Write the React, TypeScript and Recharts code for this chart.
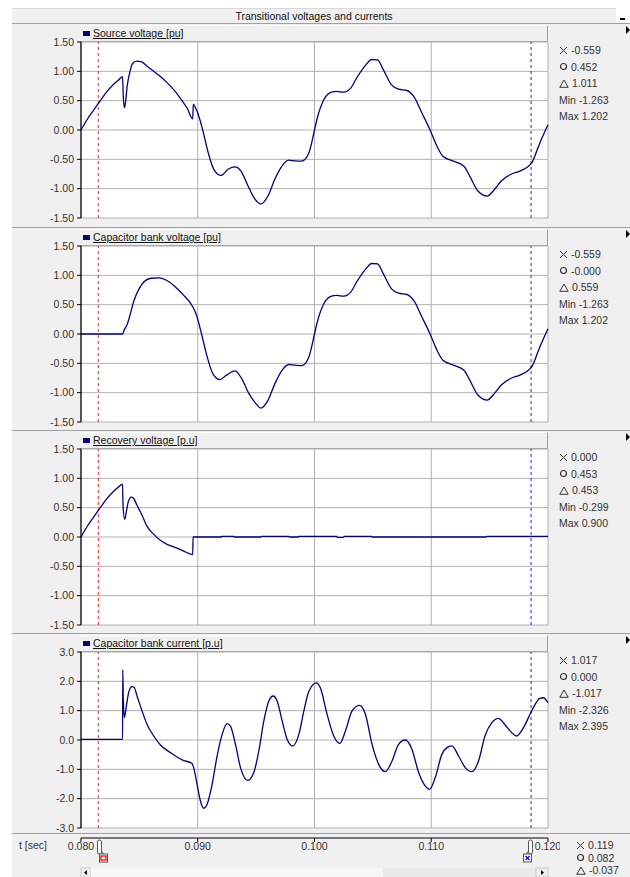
import React from 'react';
import { LineChart, Line, XAxis, YAxis, CartesianGrid, ReferenceLine } from 'recharts';

// time in ms, displayed as seconds
const timeTicks = [80, 90, 100, 110, 120];
const voltTicks = [-1.5, -1, -0.5, 0, 0.5, 1, 1.5];
const currentTicks = [-3, -2, -1, 0, 1, 2, 3];

const cursorO = 81.48;
const cursorX = 118.55;

const sourceT = [
  80.0, 80.5, 81.1, 81.7, 82.2, 82.8, 83.2, 83.56, 83.62, 83.72, 83.8, 83.95, 84.2, 84.4, 84.8,
  85.2, 85.7, 86.3, 86.8, 87.3, 87.7, 88.1, 88.6, 89.1, 89.57, 89.62, 89.8, 90.0, 90.4, 90.9,
  91.4, 92.0, 92.6, 93.2, 93.7, 94.3, 94.9, 95.4, 96.0, 96.6, 97.2, 97.8, 98.3, 98.9, 99.5,
  100.0, 100.2, 100.8, 101.4, 101.9, 102.5, 103.1, 103.6, 104.4, 104.9, 105.4, 105.9, 106.6,
  107.2, 107.9, 108.5, 109.2, 109.9, 110.5, 111.0, 111.9, 112.8, 113.3, 114.0, 114.8, 115.3,
  116.0, 116.8, 117.6, 118.6, 119.3, 120.0,
];
const sourceV = [
  0.0, 0.17, 0.345, 0.515, 0.65, 0.78, 0.85, 0.91, 0.58, 0.38, 0.45, 0.74, 1.0, 1.13, 1.175,
  1.16, 1.08, 0.99, 0.91, 0.82, 0.74, 0.65, 0.515, 0.37, 0.19, 0.44, 0.38, 0.29, 0.02, -0.39,
  -0.68, -0.775, -0.67, -0.63, -0.7, -0.95, -1.18, -1.263, -1.13, -0.84, -0.62, -0.515, -0.525, -0.53, -0.4,
  0.0, 0.175, 0.515, 0.64, 0.657, 0.645, 0.713, 0.883, 1.11, 1.202, 1.195, 1.025, 0.77,
  0.696, 0.674, 0.572, 0.289, 0.0, -0.28, -0.447, -0.53, -0.617, -0.786, -1.04, -1.126, -1.04,
  -0.87, -0.758, -0.7, -0.56, -0.22, 0.09,
];

const capT = [
  80.0, 83.56, 83.68, 83.97, 84.25, 84.54, 84.97, 85.4, 86.0, 86.7, 87.27, 88.0, 88.7, 89.43,
  89.86, 90.29, 90.7, 91.3, 91.9, 92.4, 93.2, 93.7, 94.4, 95.0, 95.4, 96.0, 96.6, 97.2, 97.8,
  98.3, 98.9, 99.5,
  100.0, 100.2, 100.8, 101.4, 101.9, 102.5, 103.1, 103.6, 104.4, 104.9, 105.4, 105.9, 106.6,
  107.2, 107.9, 108.5, 109.2, 109.9, 110.5, 111.0, 111.9, 112.8, 113.3, 114.0, 114.8, 115.3,
  116.0, 116.8, 117.6, 118.6, 119.3, 120.0,
];
const capV = [
  0, 0, 0.06, 0.17, 0.36, 0.57, 0.77, 0.89, 0.95, 0.955, 0.92, 0.82, 0.68, 0.51,
  0.34, 0.03, -0.31, -0.68, -0.778, -0.71, -0.63, -0.74, -1.02, -1.19, -1.263, -1.136, -0.85, -0.625, -0.52,
  -0.53, -0.54, -0.4,
  0.0, 0.175, 0.515, 0.64, 0.657, 0.645, 0.713, 0.883, 1.11, 1.202, 1.195, 1.025, 0.77,
  0.696, 0.674, 0.572, 0.289, 0.0, -0.28, -0.447, -0.53, -0.617, -0.786, -1.04, -1.126, -1.04,
  -0.87, -0.758, -0.7, -0.56, -0.22, 0.09,
];

const recT = [
  80.0, 80.5, 81.1, 81.7, 82.2, 82.8, 83.2, 83.56, 83.6, 83.74, 83.9, 84.05, 84.3, 84.5, 84.8,
  85.23, 85.66, 86.23, 86.8, 87.37, 87.94, 88.66, 89.57, 89.6, 92.0, 92.05, 93.1, 93.15, 95.4,
  95.45, 97.8, 97.85, 98.6, 98.65, 101.9, 101.95, 102.5, 102.55, 104.9, 104.95, 114.7, 114.75, 120.0,
];
const recV = [
  0.0, 0.17, 0.345, 0.515, 0.65, 0.78, 0.85, 0.9, 0.54, 0.3, 0.45, 0.6, 0.68, 0.66, 0.54,
  0.37, 0.18, 0.045, -0.057, -0.125, -0.17, -0.227, -0.299, 0.0, 0.0, 0.01, 0.01, 0.0, 0.0,
  0.01, 0.01, 0.0, 0.0, 0.01, 0.01, -0.005, -0.005, 0.01, 0.01, 0.0, 0.0, 0.01, 0.01,
];

const curT = [
  80.0, 83.56, 83.58, 83.62, 83.72, 83.9, 84.1, 84.37, 84.55, 84.8, 85.23, 85.66, 86.23, 86.8,
  87.66, 88.66, 89.51, 89.65, 89.94, 90.23, 90.51, 90.8, 91.23, 91.66, 92.09, 92.51, 92.8, 93.23,
  93.66, 94.29, 94.8, 95.23, 95.66, 96.09, 96.46, 96.8, 97.23, 97.66, 98.14, 98.66, 99.09, 99.51,
  100.17, 100.5, 101.08, 101.65, 102.17, 102.65, 103.22, 103.87, 104.36, 104.93, 105.5, 106.07,
  106.64, 107.2, 107.77, 108.35, 108.92, 109.49, 109.86, 110.34, 110.91, 111.34, 111.77, 112.34,
  112.91, 113.48, 114.05, 114.6, 115.19, 115.75, 116.3, 116.9, 117.3, 117.9, 118.6, 119.3, 119.6, 120.0,
];
const curV = [
  0.02, 0.02, 2.395, 1.42, 0.76, 1.2, 1.65, 1.82, 1.8, 1.5, 0.99, 0.53, 0.136, -0.17,
  -0.43, -0.68, -0.8, -0.94, -1.51, -2.08, -2.326, -2.19, -1.51, -0.545, 0.19, 0.557, 0.477, -0.148,
  -0.94, -1.375, -1.11, -0.375, 0.65, 1.33, 1.5, 1.33, 0.65, 0.02, -0.2, 0.19, 0.99, 1.65,
  1.95, 1.78, 0.875, 0.136, -0.114, 0.307, 0.99, 1.18, 0.875, -0.148, -0.83, -1.08,
  -0.716, -0.148, 0.0, -0.32, -1.11, -1.57, -1.68, -1.28, -0.49, -0.26, -0.2, -0.545,
  -0.94, -1.08, -0.716, 0.136, 0.59, 0.74, 0.53, 0.25, 0.136, 0.42, 0.99, 1.42, 1.44, 1.27,
];

const sourceReadout = ['-0.559', '0.452', '1.011', '-1.263', '1.202'];
const capReadout = ['-0.559', '-0.000', '0.559', '-1.263', '1.202'];
const recReadout = ['0.000', '0.453', '0.453', '-0.299', '0.900'];
const curReadout = ['1.017', '0.000', '-1.017', '-2.326', '2.395'];
const timeReadout = ['0.119', '0.082', '-0.037'];

const FONT = '"Liberation Sans", Arial, sans-serif';
const TXT = '#333';
const PLOT_LEFT = 81;
const PLOT_RIGHT = 548;
const PLOT_H = 176;

const toRows = (t: number[], v: number[]) => t.map((x, i) => ({ t: x, v: v[i] }));

const CrossIcon = () => (
  <svg width={9} height={9} style={{ marginRight: 3 }}>
    <path d="M1 1L8 8M8 1L1 8" stroke={TXT} strokeWidth={1} />
  </svg>
);
const CircleIcon = () => (
  <svg width={9} height={9} style={{ marginRight: 3 }}>
    <circle cx={4.5} cy={4.5} r={3} fill="none" stroke={TXT} strokeWidth={1.2} />
  </svg>
);
const TriangleIcon = () => (
  <svg width={10} height={9} style={{ marginRight: 3 }}>
    <path d="M5 1L9.2 8.3H0.8Z" fill="none" stroke={TXT} strokeWidth={1} />
  </svg>
);

function Readouts({ top, left, values, minmax, step }: { top: number; left: number; values: string[]; minmax: boolean; step: number }) {
  const icons = [<CrossIcon />, <CircleIcon />, <TriangleIcon />];
  return (
    <div style={{ position: 'absolute', left, top, fontFamily: FONT, fontSize: 10.5, color: TXT, lineHeight: `${step}px` }}>
      {icons.map((ic, i) => (
        <div key={i} style={{ display: 'flex', alignItems: 'center', height: step }}>
          {ic}
          <span>{values[i]}</span>
        </div>
      ))}
      {minmax && <div>Min {values[3]}</div>}
      {minmax && <div>Max {values[4]}</div>}
    </div>
  );
}

function Panel({ sep, title, rows, ticks, digits, readout }: {
  sep: number; title: string; rows: { t: number; v: number }[]; ticks: number[]; digits: number; readout: string[];
}) {
  const plotTop = sep + 19;
  return (
    <>
      <div style={{ position: 'absolute', left: 12, top: sep, width: 618, height: 1, background: '#a0a0a0' }} />
      <div
        style={{
          position: 'absolute', left: 80, top: sep + 2, width: 467, height: 15, background: '#f0f0f0',
          borderBottom: '1px solid #a0a0a0', borderRight: '1px solid #a0a0a0', borderTop: '1px solid #fff',
        }}
      >
        <div style={{ position: 'absolute', left: 3, top: 5, width: 7, height: 5, background: '#000080' }} />
        <div style={{ position: 'absolute', left: 13, top: 0, fontFamily: FONT, fontSize: 10.5, color: '#111', textDecoration: 'underline', lineHeight: '15px' }}>
          {title}
        </div>
      </div>
      <svg width={6} height={8} style={{ position: 'absolute', left: 625, top: sep + 3 }}>
        <path d="M1 0L5 4L1 8Z" fill="#000" />
      </svg>
      <div style={{ position: 'absolute', left: PLOT_LEFT, top: plotTop, width: PLOT_RIGHT - PLOT_LEFT, height: PLOT_H, background: '#fff' }} />
      <div style={{ position: 'absolute', left: 0, top: plotTop - 8 }}>
        <LineChart width={560} height={PLOT_H + 16} data={rows} margin={{ top: 8, right: 12, bottom: 8, left: 0 }}>
          <CartesianGrid stroke="#b0b0b0" strokeWidth={1} />
          <XAxis dataKey="t" type="number" domain={[80, 120]} ticks={timeTicks} hide />
          <YAxis
            type="number"
            domain={[ticks[0], ticks[ticks.length - 1]]}
            ticks={ticks}
            width={PLOT_LEFT}
            tickFormatter={(v: number) => v.toFixed(digits)}
            tick={{ fill: TXT, fontSize: 10.5, fontFamily: FONT }}
            axisLine={{ stroke: '#000', strokeWidth: 1.2 }}
            tickLine={{ stroke: '#000' }}
            tickSize={4}
            tickMargin={3}
            interval={0}
          />
          <ReferenceLine x={cursorO} stroke="#ff2020" strokeDasharray="3 3" />
          <ReferenceLine x={cursorX} stroke="#2020ff" strokeDasharray="3 3" />
          <Line dataKey="v" type="monotone" stroke="#000080" strokeWidth={1.3} dot={false} isAnimationActive={false} />
        </LineChart>
      </div>
      <Readouts top={sep + 19} left={559} values={readout} minmax step={16.6} />
    </>
  );
}

export default function App() {
  const panels = [
    { sep: 23, title: 'Source voltage [pu]', rows: toRows(sourceT, sourceV), ticks: voltTicks, digits: 2, readout: sourceReadout },
    { sep: 227, title: 'Capacitor bank voltage [pu]', rows: toRows(capT, capV), ticks: voltTicks, digits: 2, readout: capReadout },
    { sep: 430, title: 'Recovery voltage [p.u]', rows: toRows(recT, recV), ticks: voltTicks, digits: 2, readout: recReadout },
    { sep: 633, title: 'Capacitor bank current [p.u]', rows: toRows(curT, curV), ticks: currentTicks, digits: 1, readout: curReadout },
  ];
  const axisRows = toRows(sourceT, sourceV);
  return (
    <div style={{ position: 'absolute', left: 0, top: 0, width: 630, height: 877, overflow: 'hidden', background: '#fff', fontFamily: FONT }}>
      <div style={{ position: 'absolute', left: 12, top: 23, width: 618, height: 854, background: '#f0f0f0' }} />
      <div
        style={{
          position: 'absolute', left: 12, top: 8, width: 604, height: 15, background: '#f0f0f0',
          borderTop: '1px solid #d8d8d8', boxSizing: 'border-box', textAlign: 'center', fontSize: 10.5,
          lineHeight: '14px', color: '#111',
        }}
      >
        Transitional voltages and currents
      </div>
      <div style={{ position: 'absolute', left: 620, top: 18, width: 5, height: 1.5, background: '#000' }} />

      {panels.map((p) => (
        <Panel key={p.title} {...p} />
      ))}

      {/* time axis */}
      <div style={{ position: 'absolute', left: 12, top: 833, width: 618, height: 1, background: '#a0a0a0' }} />
      <div style={{ position: 'absolute', left: 19, top: 839, fontSize: 10.5, color: TXT }}>t [sec]</div>
      <div style={{ position: 'absolute', left: 0, top: 828 }}>
        <LineChart width={560} height={40} data={axisRows} margin={{ top: 0, right: 12, bottom: 0, left: PLOT_LEFT }}>
          <XAxis
            dataKey="t"
            type="number"
            domain={[80, 120]}
            ticks={timeTicks}
            height={30}
            interval={0}
            tickFormatter={(v: number) => (v / 1000).toFixed(3)}
            tick={{ fill: TXT, fontSize: 10.5, fontFamily: FONT }}
            axisLine={{ stroke: '#000', strokeWidth: 1.2 }}
            tickLine={{ stroke: '#000' }}
            tickSize={4}
            tickMargin={1}
          />
          <YAxis hide domain={[-1.5, 1.5]} />
          <Line dataKey="v" stroke="none" dot={false} isAnimationActive={false} />
        </LineChart>
      </div>
      {/* cursor handles and scrollbar */}
      <svg width={630} height={41} style={{ position: 'absolute', left: 0, top: 836 }}>
        <rect x={97.5} y={4} width={4} height={14} rx={2} fill="#fff" stroke="#555" />
        <path d="M101.5 15 Q103 18 104 18" fill="none" stroke="#555" />
        <rect x={99.5} y={18} width={8} height={8} fill="#fff" stroke="#555" />
        <rect x={101} y={20} width={5} height={4} fill="none" stroke="#f00" strokeWidth={1.3} />
        <rect x={528.5} y={4} width={4} height={14} rx={2} fill="#fff" stroke="#555" />
        <path d="M528.5 15 Q527 18 526 18" fill="none" stroke="#555" />
        <rect x={523.5} y={18} width={8} height={8} fill="#fff" stroke="#555" />
        <path d="M525.5 20L529.5 24M529.5 20L525.5 24" stroke="#00f" strokeWidth={1.2} />
        <rect x={81} y={32} width={10} height={9} fill="#f0f0f0" stroke="#c8c8c8" />
        <path d="M84 36.5L87 34V39Z" fill="#000" />
        <rect x={91} y={32} width={292} height={9} fill="#f6f6f6" />
        <rect x={383} y={32} width={153} height={9} fill="#e9e9e9" />
        <rect x={536} y={32} width={12} height={9} fill="#f0f0f0" stroke="#c8c8c8" />
        <path d="M541 34L544 36.5L541 39Z" fill="#000" />
      </svg>
      <Readouts top={839} left={576} values={timeReadout} minmax={false} step={12.6} />
    </div>
  );
}
